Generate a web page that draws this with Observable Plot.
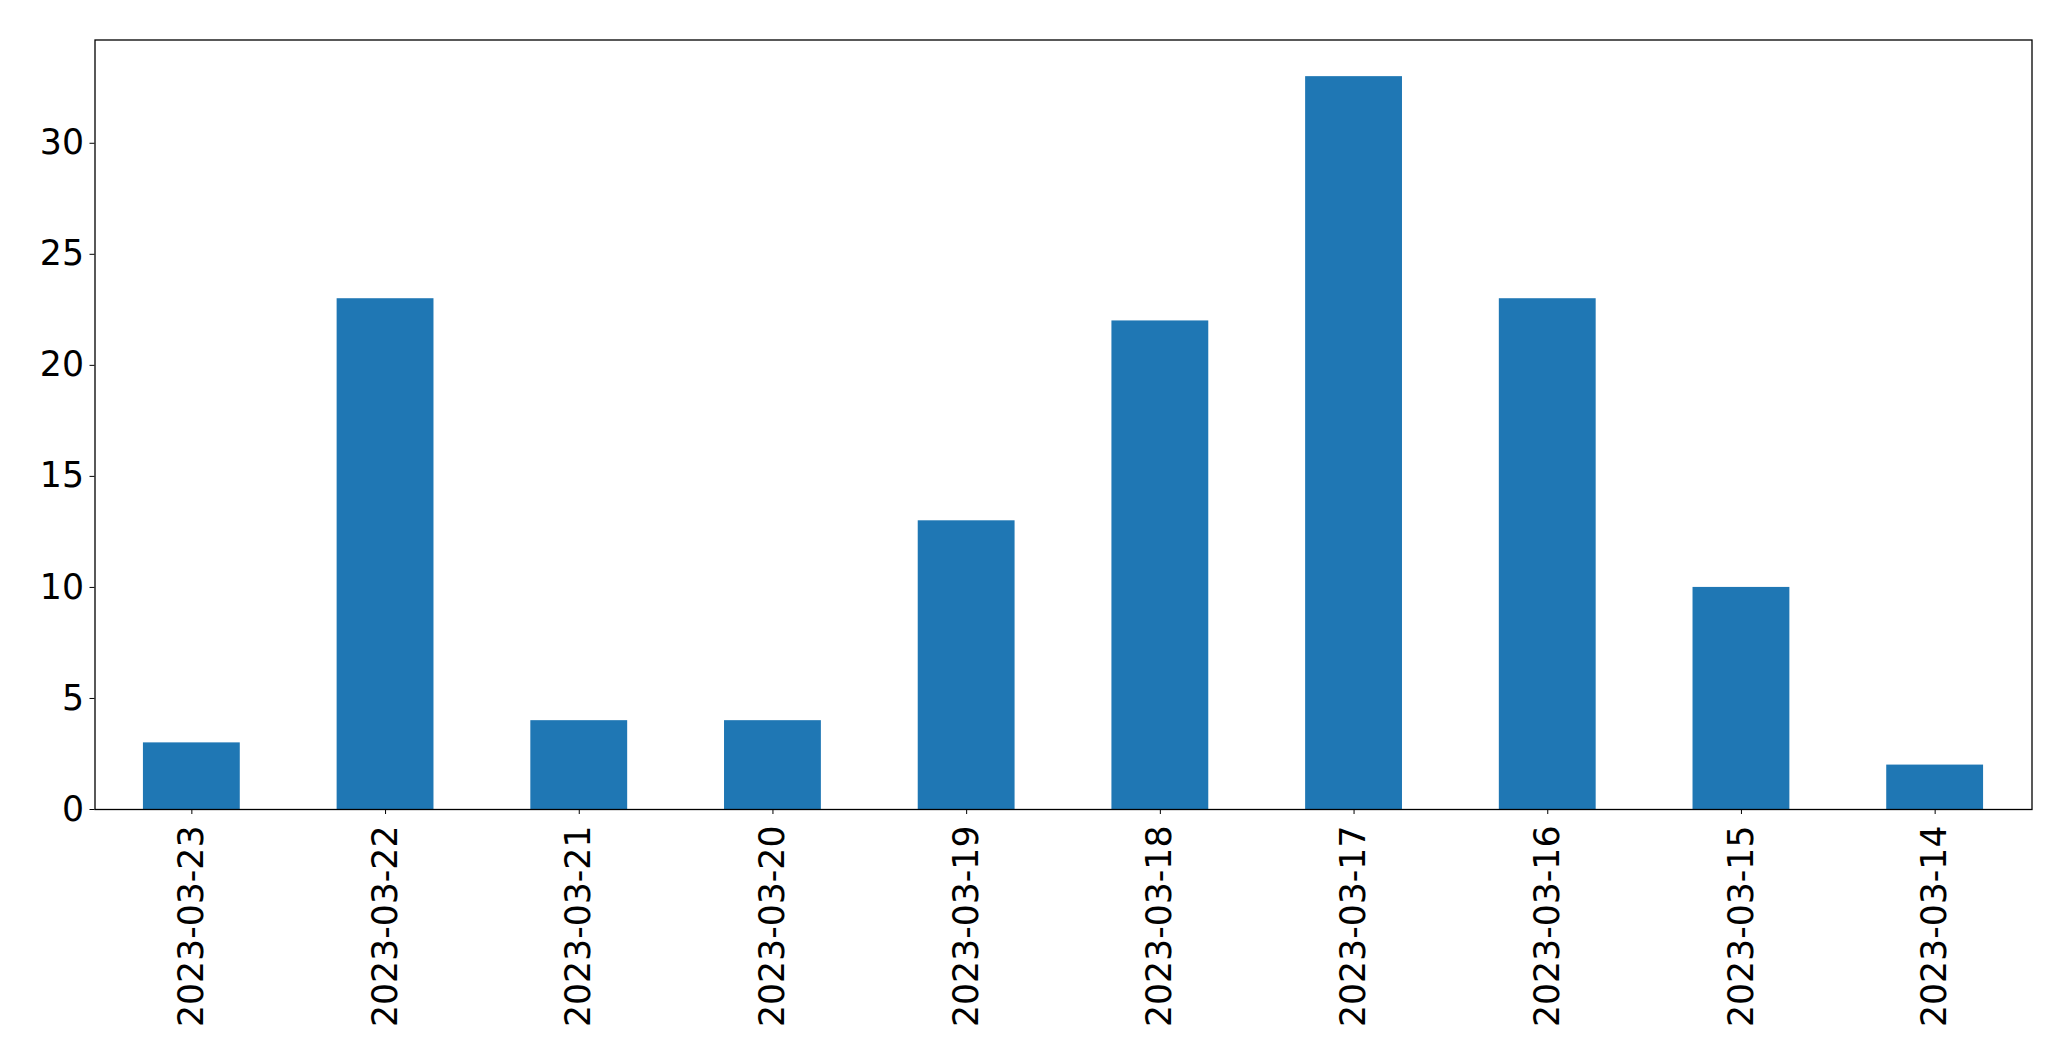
<!DOCTYPE html>
<html>
<head>
<meta charset="utf-8">
<script src="https://cdn.jsdelivr.net/npm/d3@7"></script>
<script src="https://cdn.jsdelivr.net/npm/@observablehq/plot@0.6"></script>
<style>
  html, body { margin: 0; padding: 0; background: #fff; }
  #chart svg { display: block; }
</style>
</head>
<body>
<div id="chart"></div>
<script>
const dates = ["2023-03-23","2023-03-22","2023-03-21","2023-03-20","2023-03-19","2023-03-18","2023-03-17","2023-03-16","2023-03-15","2023-03-14"];
const counts = [3, 23, 4, 4, 13, 22, 33, 23, 10, 2];
const yTicks = [0, 5, 10, 15, 20, 25, 30];

const data = dates.map((d, i) => ({date: d, count: counts[i]}));

const chart = Plot.plot({
  width: 2071,
  height: 1061,
  marginLeft: 94.5,
  marginRight: 39.5,
  marginTop: 39.5,
  marginBottom: 252,
  style: {fontFamily: "DejaVu Sans", fontSize: "34.7px", color: "black", background: "white"},
  x: {domain: dates, paddingInner: 0.5, paddingOuter: 0.25, round: false, label: null},
  y: {domain: [0, 34.65], label: null},
  marks: [
    Plot.barY(data, {x: "date", y: "count", fill: "#1f77b4"}),
    Plot.axisY({ticks: yTicks, tickSize: 5, tickPadding: 6, fontSize: 34.7, label: null, stroke: "black", strokeOpacity: 1}),
    Plot.axisX({tickSize: 5, tickPadding: 11, tickRotate: -90, fontSize: 34.7, label: null, stroke: "black", strokeOpacity: 1}),
    Plot.frame({stroke: "black", strokeWidth: 1.3})
  ]
});
document.getElementById("chart").appendChild(chart);
</script>
</body>
</html>
